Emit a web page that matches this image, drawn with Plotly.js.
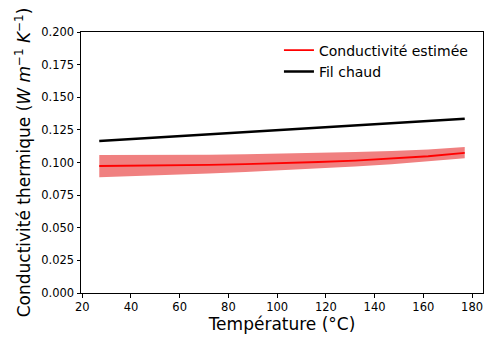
<!DOCTYPE html>
<html>
<head>
<meta charset="utf-8">
<script src="https://cdn.plot.ly/plotly-3.0.1.min.js"></script>
<style>html,body{margin:0;padding:0;background:#fff;}#chart{width:486px;height:338px;}</style>
</head>
<body>
<div id="chart"></div>
<script>
const temperature = [27, 42, 57, 72, 87, 102, 117, 132, 147, 162, 177];
const conductiviteEstimee = [0.0973, 0.0975, 0.0978, 0.0982, 0.0988, 0.0995, 0.1004, 0.1015, 0.1029, 0.1048, 0.1073];
const bandeBasse = [0.0887, 0.0895, 0.0905, 0.0915, 0.0927, 0.0940, 0.0955, 0.0970, 0.0987, 0.1008, 0.1032];
const bandeHaute = [0.1057, 0.1057, 0.1058, 0.1060, 0.1063, 0.1067, 0.1073, 0.1080, 0.1088, 0.1100, 0.1118];
const filChaud = [0.1165, 0.1182, 0.1199, 0.1216, 0.1233, 0.1250, 0.1267, 0.1284, 0.1301, 0.1318, 0.1335];
const xTicks = [20, 40, 60, 80, 100, 120, 140, 160, 180];
const yTicks = [0, 0.025, 0.05, 0.075, 0.1, 0.125, 0.15, 0.175, 0.2];

const traces = [
  {x: temperature, y: bandeBasse, mode: 'lines', line: {width: 0, color: '#f08080'}, showlegend: false, hoverinfo: 'skip'},
  {x: temperature, y: bandeHaute, mode: 'lines', line: {width: 0, color: '#f08080'}, fill: 'tonexty', fillcolor: '#f08080', showlegend: false, hoverinfo: 'skip'},
  {x: temperature, y: conductiviteEstimee, mode: 'lines', name: 'Conductivité estimée', line: {color: '#ff0000', width: 1.8}},
  {x: temperature, y: filChaud, mode: 'lines', name: 'Fil chaud', line: {color: '#000000', width: 2.5}}
];

const layout = {
  width: 486, height: 338,
  margin: {l: 81, r: 3, t: 32, b: 45},
  paper_bgcolor: '#fff', plot_bgcolor: '#fff',
  font: {family: 'DejaVu Sans', color: '#000'},
  showlegend: true,
  legend: {x: 0.975, xanchor: 'right', y: 0.99, yanchor: 'top', traceorder: 'normal', itemwidth: 30,
    font: {family: 'DejaVu Sans', size: 14, color: '#000'}, bgcolor: 'rgba(255,255,255,0.8)', borderwidth: 0, tracegroupgap: 0},
  xaxis: {
    range: [19.5, 184.5], tickvals: xTicks, ticktext: xTicks.map(String),
    showgrid: false, zeroline: false, showline: true, linecolor: '#000', linewidth: 1, mirror: true,
    ticks: 'outside', ticklen: 3.5, tickcolor: '#000', tickfont: {family: 'DejaVu Sans', size: 11.5, color: '#000'},
    title: {text: 'Température (°C)', font: {family: 'DejaVu Sans', size: 17, color: '#000'}, standoff: 3}
  },
  yaxis: {
    range: [0, 0.2], tickvals: yTicks, ticktext: yTicks.map(v => v.toFixed(3)),
    showgrid: false, zeroline: false, showline: true, linecolor: '#000', linewidth: 1, mirror: true,
    ticks: 'outside', ticklen: 3.5, tickcolor: '#000', tickfont: {family: 'DejaVu Sans', size: 11.5, color: '#000'},
    title: {text: 'Conductivité thermique (<i>W m</i><sup>−1</sup> <i>K</i><sup>−1</sup>)', font: {family: 'DejaVu Sans', size: 17, color: '#000'}, standoff: 6}
  }
};
Plotly.newPlot('chart', traces, layout, {displayModeBar: false, staticPlot: true});
</script>
</body>
</html>
